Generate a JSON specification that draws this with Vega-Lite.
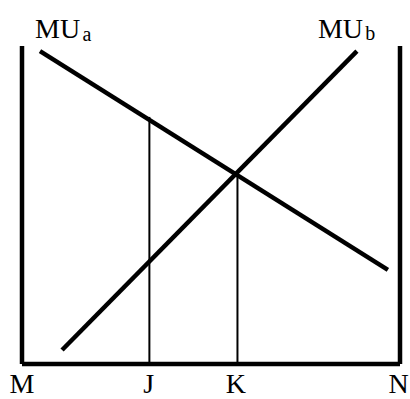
{
  "$schema": "https://vega.github.io/schema/vega-lite/v6.json",
  "width": 378,
  "height": 318,
  "autosize": {"type": "none"},
  "padding": {"left": 22, "right": 10, "top": 46, "bottom": 35},
  "background": "white",
  "config": {"view": {"stroke": null}},
  "datasets": {
    "segments": [
      {"name": "wallM", "x": 0, "y": 0, "x2": 0, "y2": 10},
      {"name": "wallN", "x": 10, "y": 0, "x2": 10, "y2": 10},
      {"name": "base", "x": 0, "y": 0, "x2": 10, "y2": 0},
      {"name": "MUa", "x": 0.476, "y": 9.84, "x2": 9.68, "y2": 2.96},
      {"name": "MUb", "x": 1.06, "y": 0.44, "x2": 8.86, "y2": 9.84},
      {"name": "J", "x": 3.37, "y": 0, "x2": 3.37, "y2": 7.77},
      {"name": "K", "x": 5.7, "y": 0, "x2": 5.7, "y2": 6.0}
    ],
    "labels": [
      {"label": "MU", "x": 0.344, "y": 10.25, "part": "main"},
      {"label": "a", "x": 1.6, "y": 10.16, "part": "sub"},
      {"label": "MU", "x": 7.83, "y": 10.25, "part": "main"},
      {"label": "b", "x": 9.08, "y": 10.19, "part": "sub"}
    ],
    "ticks": [
      {"label": "M", "x": 0.0, "y": -0.9},
      {"label": "J", "x": 3.35, "y": -0.9},
      {"label": "K", "x": 5.66, "y": -0.9},
      {"label": "N", "x": 9.96, "y": -0.9}
    ]
  },
  "layer": [
    {
      "data": {"name": "segments"},
      "transform": [{"filter": "datum.name !== 'J' && datum.name !== 'K'"}],
      "mark": {"type": "rule", "color": "black", "strokeWidth": 4.5},
      "encoding": {
        "x": {"field": "x", "type": "quantitative", "scale": {"domain": [0, 10], "nice": false, "zero": false}, "axis": null},
        "y": {"field": "y", "type": "quantitative", "scale": {"domain": [0, 10], "nice": false, "zero": false}, "axis": null},
        "x2": {"field": "x2"},
        "y2": {"field": "y2"}
      }
    },
    {
      "data": {"name": "segments"},
      "transform": [{"filter": "datum.name === 'J' || datum.name === 'K'"}],
      "mark": {"type": "rule", "color": "black", "strokeWidth": 2},
      "encoding": {
        "x": {"field": "x", "type": "quantitative", "axis": null},
        "y": {"field": "y", "type": "quantitative", "axis": null},
        "x2": {"field": "x2"},
        "y2": {"field": "y2"}
      }
    },
    {
      "data": {"name": "labels"},
      "transform": [{"filter": "datum.part === 'main'"}],
      "mark": {"type": "text", "font": "Liberation Serif", "fontSize": 28, "align": "left", "baseline": "alphabetic", "color": "black"},
      "encoding": {
        "x": {"field": "x", "type": "quantitative", "axis": null},
        "y": {"field": "y", "type": "quantitative", "axis": null},
        "text": {"field": "label"}
      }
    },
    {
      "data": {"name": "labels"},
      "transform": [{"filter": "datum.part === 'sub'"}],
      "mark": {"type": "text", "font": "Liberation Serif", "fontSize": 20, "align": "left", "baseline": "alphabetic", "color": "black"},
      "encoding": {
        "x": {"field": "x", "type": "quantitative", "axis": null},
        "y": {"field": "y", "type": "quantitative", "axis": null},
        "text": {"field": "label"}
      }
    },
    {
      "data": {"name": "ticks"},
      "mark": {"type": "text", "font": "Liberation Serif", "fontSize": 28, "align": "center", "baseline": "alphabetic", "color": "black"},
      "encoding": {
        "x": {"field": "x", "type": "quantitative", "axis": null},
        "y": {"field": "y", "type": "quantitative", "axis": null},
        "text": {"field": "label"}
      }
    }
  ]
}
